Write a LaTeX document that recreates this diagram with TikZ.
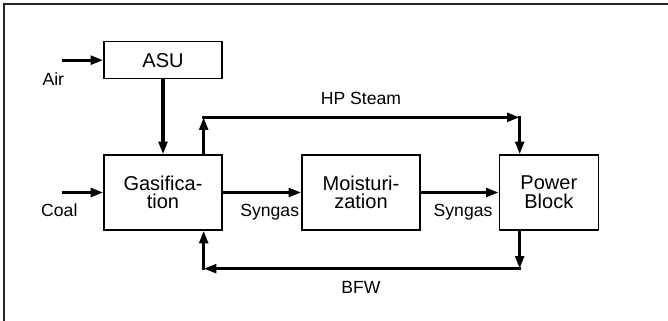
\documentclass[tikz,border=0pt]{standalone}
\usepackage{fontspec}
\setmainfont{Liberation Sans}
\usetikzlibrary{positioning,arrows.meta}

\begin{document}
\begin{tikzpicture}[x=0.75pt,y=-0.75pt,node distance=59pt,>={Triangle[length=9.5pt,width=6.5pt]},
  every node/.style={align=center},
  unit/.style={draw,line width=1pt,minimum width=88.5pt,minimum height=56.25pt,inner sep=0pt,font=\fontsize{15}{14}\selectfont},
  stream/.style={->,line width=2.3pt,line cap=rect},
  lbl/.style={inner sep=0pt,font=\fontsize{13.2}{14}\selectfont}]
  \useasboundingbox (0,0) rectangle (668,321);
  \draw[line width=1pt,black!85] (4,321) -- (4,4) -- (668,4);

  % process units
  \node[unit] (gas) at (163,192.5) {Gasifica-\\tion};
  \node[unit,right=of gas] (moist) {Moisturi-\\zation};
  \node[unit,right=58.5pt of moist,minimum width=74.25pt] (power) {Power\\Block};
  \node[unit,above=56.25pt of gas,minimum height=27.75pt] (asu) {ASU};

  % feeds
  \coordinate[left=30pt of asu.west] (air);
  \coordinate[left=30pt of gas.west] (coal);
  \draw[stream] (air) -- (asu);
  \draw[stream] (coal) -- (gas);
  \draw[stream] (asu) -- (gas);
  \draw[stream] (gas) -- (moist);
  \draw[stream] (moist) -- (power);

  % steam loop
  \coordinate (gasout) at ([xshift=-14.25pt]gas.north east);
  \coordinate[above=27.75pt of gasout] (hpA);
  \coordinate (pwrin) at ([xshift=15.75pt]power.north west);
  \coordinate (hpB) at (hpA -| pwrin);
  \draw[stream] (gasout) -- (hpA);
  \draw[stream] (hpA) -- (hpB);
  \draw[stream] (hpB) -- (pwrin);

  % feed water loop
  \coordinate (pwrout) at ([xshift=15.75pt]power.south west);
  \coordinate[below=28.5pt of pwrout] (bfwA);
  \coordinate (gasin) at ([xshift=-14.25pt]gas.south east);
  \coordinate (bfwB) at (bfwA -| gasin);
  \draw[stream] (pwrout) -- (bfwA);
  \draw[stream] (bfwA) -- (bfwB);
  \draw[stream] (bfwB) -- (gasin);

  % labels
  \coordinate (hpmid) at (hpA -| moist);
  \coordinate (bfwmid) at (bfwA -| moist);
  \node[lbl,below=9pt of air,xshift=-7.5pt] (airlbl) {Air};
  \node[lbl,below=8.5pt of coal,xshift=-3pt] (coallbl) {Coal};
  \node[lbl,below left=8.5pt and 1.5pt of moist.west] (syn1) {Syngas};
  \node[lbl,below left=8.5pt and 4.5pt of power.west] (syn2) {Syngas};
  \node[lbl,above=9.5pt of hpmid] (hplbl) {HP Steam};
  \node[lbl,below=9pt of bfwmid] (bfwlbl) {BFW};
\end{tikzpicture}
\end{document}
